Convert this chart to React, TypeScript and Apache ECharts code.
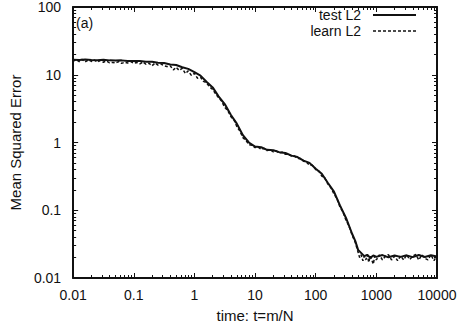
import React, { useEffect, useRef } from "react";
import * as echarts from "echarts";

const xTickLabels = ["0.01", "0.1", "1", "10", "100", "1000", "10000"];
const yTickLabels = ["0.01", "0.1", "1", "10", "100"];
const seriesNames = ["test L2", "learn L2"];

const testL2: [number, number][] = [
  [0.01, 16.6], [0.0126, 16.5], [0.0158, 16.8], [0.02, 16.5], [0.025, 16.4], [0.0316, 16.6],
  [0.04, 16.3], [0.05, 16.2], [0.063, 16.3], [0.079, 16.0], [0.1, 15.9], [0.126, 15.9],
  [0.158, 15.5], [0.2, 15.5], [0.25, 15.0], [0.316, 14.9], [0.4, 14.2], [0.5, 13.9],
  [0.63, 12.9], [0.79, 12.2], [1, 10.9], [1.26, 9.7], [1.58, 7.9], [2, 6.5], [2.5, 4.8],
  [3.16, 3.7], [4, 2.55], [5, 1.9], [6.3, 1.28], [7.9, 1.0], [10, 0.87], [12.6, 0.85],
  [15.8, 0.78], [20, 0.77], [25, 0.72], [31.6, 0.7], [40, 0.64], [50, 0.61], [63, 0.54],
  [79, 0.5], [100, 0.41], [126, 0.345], [158, 0.255], [200, 0.188], [251, 0.118], [316, 0.077],
  [398, 0.045], [450, 0.035], [500, 0.026], [560, 0.0235], [631, 0.021], [708, 0.022],
  [794, 0.0198], [891, 0.0215], [1000, 0.0205], [1260, 0.0218], [1580, 0.0202], [2000, 0.0215],
  [2510, 0.0205], [3160, 0.0216], [3980, 0.0203], [5010, 0.0218], [6310, 0.0204],
  [7940, 0.0217], [10000, 0.0208],
];

const learnL2: [number, number][] = [
  [0.01, 15.8], [0.011, 16.8], [0.0126, 15.6], [0.014, 16.9], [0.0158, 15.5], [0.018, 16.6],
  [0.02, 15.7], [0.0224, 16.5], [0.025, 15.4], [0.028, 16.2], [0.0316, 15.3], [0.035, 16.0],
  [0.04, 15.0], [0.045, 15.2], [0.05, 14.9], [0.056, 15.6], [0.063, 14.7], [0.071, 15.3],
  [0.079, 14.9], [0.089, 15.6], [0.1, 14.8], [0.112, 15.2], [0.126, 14.5], [0.141, 15.4],
  [0.158, 14.3], [0.178, 14.8], [0.2, 13.6], [0.224, 14.9], [0.25, 13.9], [0.28, 14.4],
  [0.316, 13.6], [0.35, 13.2], [0.4, 13.5], [0.45, 11.8], [0.5, 12.9], [0.56, 11.6],
  [0.63, 12.4], [0.71, 10.4], [0.79, 11.4], [0.89, 9.8], [1, 10.5], [1.12, 8.9],
  [1.26, 9.2], [1.41, 8.0], [1.58, 7.6], [1.78, 6.6], [2, 6.1], [2.24, 5.2], [2.5, 4.6],
  [2.8, 4.1], [3.16, 3.3], [3.55, 2.95], [4, 2.4], [4.5, 2.15], [5, 1.72], [5.6, 1.48],
  [6.3, 1.18], [7.1, 1.07], [7.9, 0.93], [8.9, 0.91], [10, 0.84], [11.2, 0.86], [12.6, 0.79],
  [14.1, 0.82], [15.8, 0.76], [17.8, 0.78], [20, 0.73], [22.4, 0.75], [25, 0.7], [28, 0.72],
  [31.6, 0.67], [35, 0.67], [40, 0.63], [45, 0.63], [50, 0.58], [56, 0.58], [63, 0.53],
  [71, 0.51], [79, 0.46], [89, 0.46], [100, 0.4], [112, 0.38], [126, 0.32], [141, 0.3],
  [158, 0.245], [178, 0.215], [200, 0.175], [224, 0.148], [251, 0.112], [282, 0.094],
  [316, 0.071], [355, 0.058], [398, 0.043], [447, 0.034], [500, 0.024], [530, 0.02],
  [560, 0.022], [600, 0.018], [631, 0.021], [670, 0.0185], [708, 0.022], [750, 0.017],
  [794, 0.021], [840, 0.0185], [891, 0.016], [940, 0.021], [1000, 0.0185], [1120, 0.022],
  [1260, 0.0185], [1410, 0.021], [1580, 0.0222], [1780, 0.0185], [2000, 0.021], [2240, 0.018],
  [2510, 0.0212], [2820, 0.0185], [3160, 0.022], [3550, 0.0188], [3980, 0.021], [4470, 0.0222],
  [5010, 0.0185], [5620, 0.022], [6310, 0.0195], [7080, 0.0185], [7940, 0.022], [8910, 0.018],
  [10000, 0.0215],
];

const FONT = "'Liberation Sans', Arial, sans-serif";
const INK = "#111";

function logLabel(labels: string[], min: number) {
  return (v: number) => {
    const i = Math.round(Math.log10(v) - Math.log10(min));
    return labels[i] ?? "";
  };
}

export default function App() {
  const ref = useRef<HTMLDivElement>(null);
  useEffect(() => {
    if (!ref.current) return;
    const chart = echarts.init(ref.current, null, { renderer: "svg" });
    const axisCommon = {
      type: "log" as const,
      logBase: 10,
      axisLine: { show: true, onZero: false, lineStyle: { color: INK, width: 2 } },
      axisTick: { show: true, inside: true, length: 5, lineStyle: { color: INK, width: 1 } },
      minorTick: { show: true, splitNumber: 9, length: 3, lineStyle: { color: INK, width: 1 } },
      splitLine: { show: false },
      minorSplitLine: { show: false },
    };
    const legendText = (y: number, text: string) => ({
      type: "text",
      x: 361,
      y,
      style: {
        text,
        font: `14px ${FONT}`,
        fill: INK,
        textAlign: "right",
        textVerticalAlign: "middle",
      },
    });
    chart.setOption({
      animation: false,
      backgroundColor: "#fff",
      grid: { left: 66, right: 23, top: 5, bottom: 48, containLabel: false },
      graphic: [
        {
          type: "text",
          left: 76,
          top: 16,
          style: { text: "(a)", font: `14px ${FONT}`, fill: INK },
        },
        legendText(15, seriesNames[0]),
        {
          type: "line",
          shape: { x1: 373, y1: 15, x2: 416, y2: 15 },
          style: { stroke: INK, lineWidth: 2 },
        },
        legendText(31, seriesNames[1]),
        {
          type: "line",
          shape: { x1: 373, y1: 31, x2: 416, y2: 31 },
          style: { stroke: INK, lineWidth: 1.5, lineDash: [3, 2] },
        },
      ],
      xAxis: [
        {
          ...axisCommon,
          position: "bottom",
          min: 0.01,
          max: 10000,
          name: "time: t=m/N",
          nameLocation: "middle",
          nameGap: 30,
          nameTextStyle: { fontFamily: FONT, fontSize: 15, color: INK },
          axisLabel: {
            fontFamily: FONT,
            fontSize: 14,
            color: INK,
            margin: 10,
            formatter: logLabel(xTickLabels, 0.01),
          },
        },
        {
          ...axisCommon,
          position: "top",
          min: 0.01,
          max: 10000,
          axisLabel: { show: false },
        },
      ],
      yAxis: [
        {
          ...axisCommon,
          position: "left",
          min: 0.01,
          max: 100,
          name: "Mean Squared Error",
          nameLocation: "middle",
          nameGap: 49,
          nameTextStyle: { fontFamily: FONT, fontSize: 15, color: INK },
          axisLabel: {
            fontFamily: FONT,
            fontSize: 14,
            color: INK,
            margin: 12,
            formatter: logLabel(yTickLabels, 0.01),
          },
        },
        {
          ...axisCommon,
          position: "right",
          min: 0.01,
          max: 100,
          axisLabel: { show: false },
        },
      ],
      series: [
        {
          name: seriesNames[0],
          type: "line",
          data: testL2,
          symbol: "none",
          lineStyle: { color: INK, width: 2, type: "solid" },
          itemStyle: { color: INK },
        },
        {
          name: seriesNames[1],
          type: "line",
          data: learnL2,
          symbol: "none",
          lineStyle: { color: INK, width: 1.5, type: [3, 2] },
          itemStyle: { color: INK },
        },
      ],
    });
    return () => chart.dispose();
  }, []);
  return (
    <div
      ref={ref}
      style={{ position: "fixed", left: 0, top: 0, width: 460, height: 328 }}
    />
  );
}
